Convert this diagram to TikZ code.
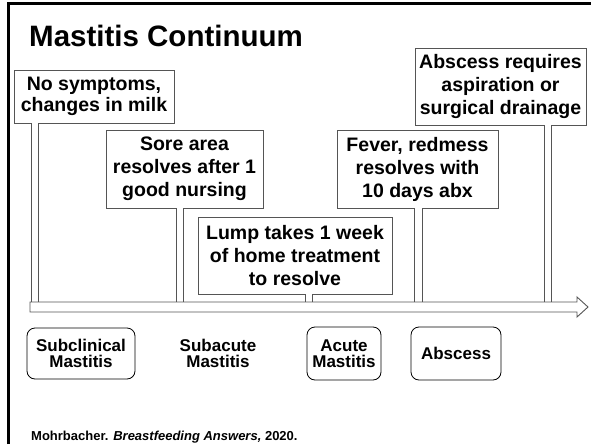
\documentclass[tikz,border=0pt]{standalone}
\usepackage{fontspec}
\setmainfont{Liberation Sans}
\usepackage{tikz}
\usetikzlibrary{calc}
\definecolor{boxgray}{HTML}{555555}
\tikzset{
  event/.style={draw=boxgray, line width=0.9pt, fill=white, align=center, inner sep=2pt,
    font=\fontsize{19.5}{23}\selectfont\bfseries},
  stage/.style={draw=black, line width=0.8pt, rounded corners=8pt, align=center, inner sep=2pt,
    font=\fontsize{17}{16}\selectfont\bfseries},
  pole/.style={draw=boxgray, line width=1pt, double=white, double distance=6.3pt},
  timeline/.style={draw=boxgray, line width=0.9pt, fill=white}
}

\begin{document}
\begin{tikzpicture}[x=1pt, y=-1pt]
    \useasboundingbox (0,0) rectangle (591,444);

      % frame and title
      \draw[line width=3pt] (8,444) -- (8,3.5) -- (591,3.5);
      \node[anchor=base west, inner sep=0pt, font=\fontsize{29.5}{31}\selectfont\bfseries]
        (title) at (29,47) {Mastitis Continuum};

      % events
      \node[event, minimum width=160pt, minimum height=53pt, font=\fontsize{19.5}{20.5}\selectfont\bfseries]
        (nosym) at (94,96.5) {No symptoms,\\changes in milk};
      \node[event, minimum width=157pt, minimum height=78pt] (sore) at (184.5,169) {Sore area\\resolves after 1\\good nursing};
      \node[event, minimum width=194pt, minimum height=77pt] (lump) at (295,255.5) {Lump takes 1 week\\of home treatment\\to resolve};
      \node[event, minimum width=161pt, minimum height=78pt] (fever) at (417.5,169) {Fever, redmess\\resolves with\\10 days abx};
      \node[event, minimum width=171pt, minimum height=77pt] (absc) at (500.5,86.5) {Abscess requires\\aspiration or\\surgical drainage};

      % poles down to the timeline
      \foreach \n/\x in {
        nosym/35,
        sore/180,
        lump/309,
        fever/418.5,
        absc/548
      }{
        \coordinate (on\n) at (\x,302);
        \draw[pole] (on\n) -- (on\n |- \n.south);
      }

      % timeline arrow
      \draw[timeline] (30,302) -- (577,302) -- (577,297) -- (588,307)
        -- (577,317) -- (577,312) -- (30,312) -- cycle;

      % stages
      \node[stage, minimum width=108pt, minimum height=51pt] (subclin) at (81,353.5) {Subclinical\\Mastitis};
      \node[stage, draw=none] (subacute) at (218,353) {Subacute\\Mastitis};
      \node[stage, minimum width=74pt, minimum height=53pt] (acute) at (344,353.5) {Acute\\Mastitis};
      \node[stage, minimum width=90pt, minimum height=53pt] (abscess) at (456,353.5) {Abscess};

      % source
      \node[anchor=base west, inner sep=0pt, font=\fontsize{13}{15}\selectfont\bfseries]
        (source) at (31,440) {Mohrbacher. \textit{Breastfeeding Answers,} 2020.};

    \end{tikzpicture}
\end{document}
